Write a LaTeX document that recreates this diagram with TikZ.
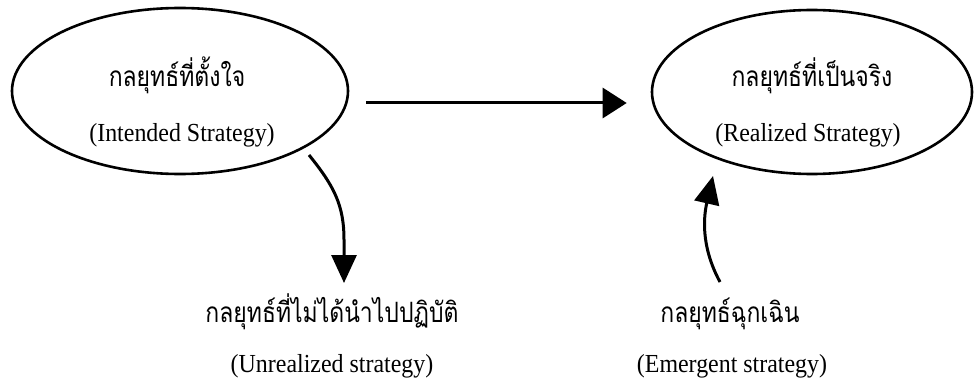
\documentclass[tikz,border=0pt]{standalone}
\usepackage{fontspec}
\setmainfont{Liberation Serif}
\newfontfamily\thaifont[Script=Thai,FakeStretch=0.82]{Loma}
\newfontfamily\engfont[FakeStretch=0.92]{Liberation Serif}
\usetikzlibrary{arrows.meta,shapes.geometric}

\begin{document}
\begin{tikzpicture}[x=1pt,y=-1pt,
  oval/.style={draw, ellipse, line width=2.6pt, inner sep=0pt},
  thai/.style={font=\thaifont\fontsize{28}{30}\selectfont, anchor=base, inner sep=0pt},
  eng/.style={font=\engfont\fontsize{26}{28}\selectfont, anchor=base, inner sep=0pt},
  flow/.style={line width=3pt},
  bigtip/.style={-{Triangle[length=24pt,width=30pt]}},
  smalltip/.style={-{Triangle[length=28pt,width=25pt]}}]
\useasboundingbox (0,0) rectangle (976,385);

% the two strategy ovals
\node[oval, minimum width=336pt, minimum height=166pt] (intended) at (180,91) {};
\node[oval, minimum width=320pt, minimum height=164pt] (realized) at (812,92) {};

% labels inside the ovals
\node[thai] (intTh) at (177,87) {กลยุทธ์ที่ตั้งใจ};
\node[eng]  (intEn) at (182,141) {(Intended Strategy)};
\node[thai] (realTh) at (812,87) {กลยุทธ์ที่เป็นจริง};
\node[eng]  (realEn) at (808,141) {(Realized Strategy)};

% free-standing labels below
\node[thai] (unrTh) at (332,322) {กลยุทธ์ที่ไม่ได้นำไปปฏิบัติ};
\node[eng]  (unrEn) at (332,372) {(Unrealized strategy)};
\node[thai] (emeTh) at (730,322) {กลยุทธ์ฉุกเฉิน};
\node[eng]  (emeEn) at (732,372) {(Emergent strategy)};

% connector end points
\coordinate (uStart) at (309,155);
\coordinate (uEnd)   at (344,283);
\coordinate (eStart) at (720,282);
\coordinate (eEnd)   at (713,176);

% intended -> realized
\draw[flow, bigtip] ([shift={(17,12)}]intended.east) -- ([shift={(-24,11)}]realized.west);

% intended -> unrealized
\draw[flow, smalltip] (uStart) .. controls (334,186) and (344,205) .. (344,240) -- (uEnd);

% emergent -> realized
\draw[flow, smalltip] (eStart) .. controls (700,245) and (704,215) .. (eEnd);
\end{tikzpicture}
\end{document}
